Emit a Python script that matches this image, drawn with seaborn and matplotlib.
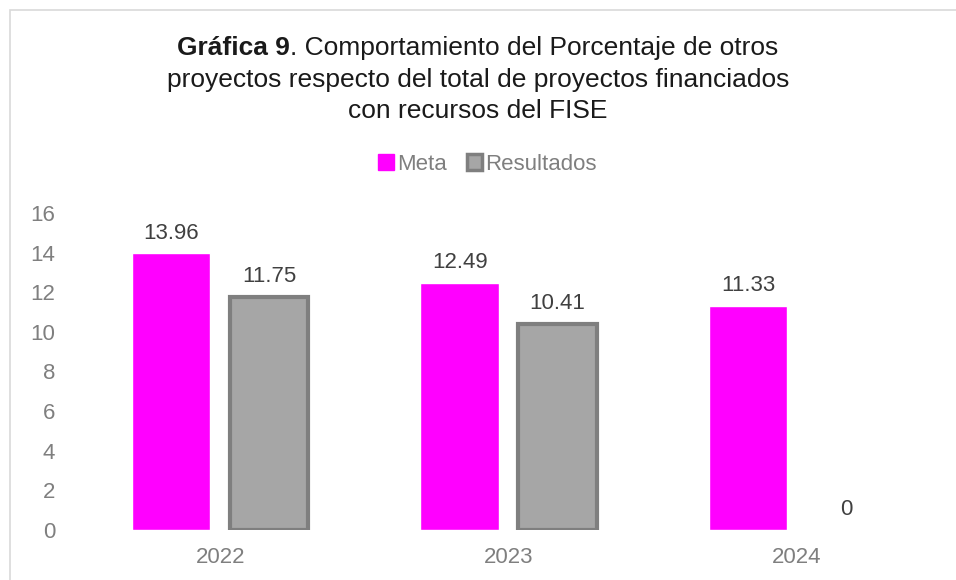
import pandas as pd
import matplotlib
matplotlib.use('Agg')
import matplotlib.pyplot as plt
from matplotlib.patches import Rectangle
import seaborn as sns

# --- DATOS ---
anios = ['2022', '2023', '2024']
meta = [13.96, 12.49, 11.33]
resultados = [11.75, 10.41, 0]
series = ['Meta', 'Resultados']

MAGENTA = '#FF00FF'
GRIS = '#A6A6A6'
GRIS_BORDE = '#7F7F7F'
TITULO_SIZE = 19


def draw_chart():
    sns.set_theme(style='white')
    plt.rcParams['font.family'] = ['Liberation Sans', 'DejaVu Sans']

    df = pd.DataFrame({
        'anio': anios * 2,
        'valor': meta + resultados,
        'serie': [series[0]] * len(anios) + [series[1]] * len(anios),
    })

    fig = plt.figure(figsize=(9.56, 5.8), dpi=100)
    ax = fig.add_axes([0.0795, 0.0862, 0.905, 0.5466])

    sns.barplot(data=df, x='anio', y='valor', hue='serie', order=anios,
                hue_order=series, palette=[MAGENTA, GRIS], width=0.68, gap=0.2,
                legend=False, ax=ax, saturation=1)

    # borde de las barras de Resultados
    for bar in ax.containers[1]:
        if bar.get_height() == 0:
            bar.set_linewidth(0)
        else:
            bar.set_edgecolor(GRIS_BORDE)
            bar.set_linewidth(3)

    for cont in ax.containers:
        ax.bar_label(cont, fmt='%g', padding=7, fontsize=16, color='#404040')

    ax.set_xlim(-0.5, 2.5)
    ax.set_ylim(0, 16)
    ax.set_yticks(range(0, 17, 2))
    ax.set_xlabel('')
    ax.set_ylabel('')
    ax.tick_params(axis='both', labelsize=16, colors='#7F7F7F', length=0)
    ax.tick_params(axis='y', pad=15)
    ax.tick_params(axis='x', pad=12)
    sns.despine(ax=ax, left=True, bottom=True)

    # titulo (primera linea con parte en negrita)
    y1 = 1 - 48 / 580
    t1 = fig.text(0, y1, 'Gráfica 9', fontsize=TITULO_SIZE, fontweight='bold',
                  ha='left', va='center', color='#1A1A1A')
    t2 = fig.text(0, y1, '. Comportamiento del Porcentaje de otros',
                  fontsize=TITULO_SIZE, ha='left', va='center', color='#1A1A1A')
    fig.canvas.draw()
    r = fig.canvas.get_renderer()
    w1 = t1.get_window_extent(r).width / fig.bbox.width
    w2 = t2.get_window_extent(r).width / fig.bbox.width
    x0 = 0.5 - (w1 + w2) / 2
    t1.set_x(x0)
    t2.set_x(x0 + w1)
    fig.text(0.5, 1 - 80 / 580, 'proyectos respecto del total de proyectos financiados',
             fontsize=TITULO_SIZE, ha='center', va='center', color='#1A1A1A')
    fig.text(0.5, 1 - 111 / 580, 'con recursos del FISE', fontsize=TITULO_SIZE,
             ha='center', va='center', color='#1A1A1A')

    # leyenda
    handles = [Rectangle((0, 0), 1, 1, facecolor=MAGENTA, edgecolor=MAGENTA),
               Rectangle((0, 0), 1, 1, facecolor=GRIS, edgecolor=GRIS_BORDE, linewidth=2.5)]
    leg = fig.legend(handles, series, loc='center', bbox_to_anchor=(0.51, 1 - 164 / 580),
                     ncol=2, frameon=False, fontsize=16, handlelength=0.7,
                     handleheight=0.7, handletextpad=0.15, columnspacing=0.9)
    for t in leg.get_texts():
        t.set_color('#7F7F7F')

    # marco del grafico
    fig.patches.append(Rectangle((10 / 956, -0.1), 1.2, 0.1 + (570 / 580),
                                 transform=fig.transFigure, fill=False,
                                 edgecolor='#D9D9D9', linewidth=1.2, zorder=0))

    fig.savefig('out.png', dpi=100)
    plt.close(fig)


if __name__ == '__main__':
    draw_chart()
